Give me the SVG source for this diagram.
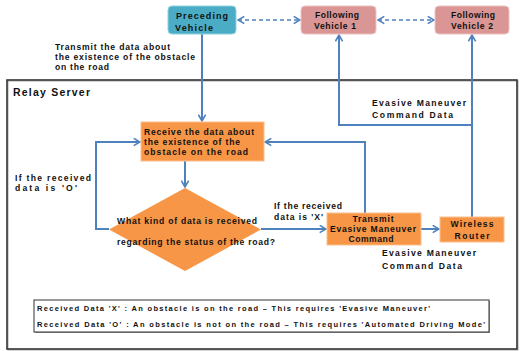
<svg xmlns="http://www.w3.org/2000/svg" width="526" height="351" viewBox="0 0 526 351">
  <style>
    text { font-family: "Liberation Sans", Arial, sans-serif; font-weight: bold; fill: #111; }
    .lbl { font-size: 8.6px; }
    .ttl { font-size: 10.5px; }
    .veh { font-size: 9px; }
    .leg { font-size: 7.5px; }
    .mid { text-anchor: middle; }
    .flow { fill: none; stroke: #4F81BD; stroke-width: 2; }
    .dash { fill: none; stroke: #4F81BD; stroke-width: 1.6; stroke-dasharray: 4 3; }
    .step { fill: #F79646; stroke: #FBC08E; stroke-width: 1; }
  </style>
  <defs>
    <marker id="arr" viewBox="0 0 10 10" refX="9" refY="5" markerWidth="9" markerHeight="9" markerUnits="userSpaceOnUse" orient="auto-start-reverse">
      <path d="M2,1 L9,5 L2,9" fill="none" stroke="#4F81BD" stroke-width="1.8"/>
    </marker>
  </defs>

  <rect width="526" height="351" fill="#fff"/>

  <!-- relay server frame -->
  <g id="relay-server">
    <rect x="8" y="81" width="510" height="269" fill="none" stroke="#aaa" stroke-width="1"/>
    <rect x="7" y="80" width="510" height="269" fill="none" stroke="#333" stroke-width="1.6"/>
    <text class="ttl" x="13" y="96" textLength="77" lengthAdjust="spacing">Relay Server</text>
  </g>

  <!-- connectors -->
  <g id="connectors">
    <path class="flow" d="M202,34 V121" marker-end="url(#arr)"/>
    <path class="flow" d="M185,161 V187" marker-end="url(#arr)"/>
    <path class="flow" d="M109,229 H96 V142 H140" marker-end="url(#arr)"/>
    <path class="flow" d="M261,229 H326" marker-end="url(#arr)"/>
    <path class="flow" d="M421,229 H439" marker-end="url(#arr)"/>
    <path class="flow" d="M365,213 V142 H265" marker-end="url(#arr)"/>
    <path class="flow" d="M472,217 V35" marker-end="url(#arr)"/>
    <path class="flow" d="M472,125 H339 V35" marker-end="url(#arr)"/>
    <path class="dash" d="M238,20 H300" marker-start="url(#arr)" marker-end="url(#arr)"/>
    <path class="dash" d="M378,20 H434" marker-start="url(#arr)" marker-end="url(#arr)"/>
  </g>

  <!-- vehicles -->
  <g id="preceding-vehicle">
    <rect x="168" y="6" width="68" height="28" rx="4" fill="#4BACC6" stroke="#8FD0E0" stroke-width="1"/>
    <text class="veh mid" x="202" y="19" textLength="52" lengthAdjust="spacing">Preceding</text>
    <text class="veh mid" x="194" y="31" textLength="38" lengthAdjust="spacing">Vehicle</text>
  </g>
  <g id="following-vehicle-1">
    <rect x="301" y="6" width="75" height="28" rx="4" fill="#DA9694" stroke="#EDC3C2" stroke-width="1"/>
    <text class="lbl mid" x="337" y="18" textLength="44" lengthAdjust="spacing">Following</text>
    <text class="lbl mid" x="335" y="29" textLength="42" lengthAdjust="spacing">Vehicle 1</text>
  </g>
  <g id="following-vehicle-2">
    <rect x="435" y="6" width="74" height="28" rx="4" fill="#DA9694" stroke="#EDC3C2" stroke-width="1"/>
    <text class="lbl mid" x="473" y="18" textLength="44" lengthAdjust="spacing">Following</text>
    <text class="lbl mid" x="472" y="29" textLength="42" lengthAdjust="spacing">Vehicle 2</text>
  </g>

  <!-- upload label -->
  <g id="upload-label">
    <text class="lbl" x="55" y="50" textLength="115" lengthAdjust="spacing">Transmit the data about</text>
    <text class="lbl" x="55" y="60" textLength="140" lengthAdjust="spacing">the existence of the obstacle</text>
    <text class="lbl" x="55" y="70" textLength="54" lengthAdjust="spacing">on the road</text>
  </g>

  <!-- receive step -->
  <g id="receive">
    <rect class="step" x="141" y="122" width="123" height="39"/>
    <text class="lbl" x="144" y="135" textLength="110" lengthAdjust="spacing">Receive the data about</text>
    <text class="lbl" x="144" y="145" textLength="96" lengthAdjust="spacing">the existence of the</text>
    <text class="lbl" x="144" y="155" textLength="104" lengthAdjust="spacing">obstacle on the road</text>
  </g>

  <!-- decision -->
  <g id="decision">
    <polygon points="185,188 261,229.5 185,271 109,229.5" fill="#F79646"/>
    <text class="lbl" x="117" y="224" textLength="140" lengthAdjust="spacing">What kind of data is received</text>
    <text class="lbl" x="117" y="245" textLength="158" lengthAdjust="spacing">regarding the status of the road?</text>
  </g>

  <g id="branch-o">
    <text class="lbl" x="15" y="181" textLength="76" lengthAdjust="spacing">If the received</text>
    <text class="lbl" x="15" y="191" textLength="62" lengthAdjust="spacing">data is 'O'</text>
  </g>
  <g id="branch-x">
    <text class="lbl" x="274" y="209" textLength="68" lengthAdjust="spacing">If the received</text>
    <text class="lbl" x="274" y="220" textLength="49" lengthAdjust="spacing">data is 'X'</text>
  </g>

  <!-- transmit step -->
  <g id="transmit">
    <rect class="step" x="327" y="213" width="94" height="32"/>
    <text class="lbl mid" x="373" y="222" textLength="41" lengthAdjust="spacing">Transmit</text>
    <text class="lbl mid" x="373" y="232" textLength="86" lengthAdjust="spacing">Evasive Maneuver</text>
    <text class="lbl mid" x="371" y="242" textLength="45" lengthAdjust="spacing">Command</text>
  </g>

  <!-- wireless router -->
  <g id="router">
    <rect class="step" x="440" y="217" width="64" height="25"/>
    <text class="lbl mid" x="472" y="227" textLength="43" lengthAdjust="spacing">Wireless</text>
    <text class="lbl mid" x="472" y="239" textLength="35" lengthAdjust="spacing">Router</text>
  </g>

  <g id="command-label-upper">
    <text class="lbl" x="372" y="106" textLength="94" lengthAdjust="spacing">Evasive Maneuver</text>
    <text class="lbl" x="372" y="118" textLength="81" lengthAdjust="spacing">Command Data</text>
  </g>
  <g id="command-label-lower">
    <text class="lbl" x="382" y="256" textLength="94" lengthAdjust="spacing">Evasive Maneuver</text>
    <text class="lbl" x="382" y="269" textLength="80" lengthAdjust="spacing">Command Data</text>
  </g>

  <!-- legend -->
  <g id="legend">
    <rect x="35" y="301" width="455" height="32" fill="#999"/>
    <rect x="34" y="300" width="455" height="32" fill="#fff" stroke="#333" stroke-width="1"/>
    <text class="leg" x="37" y="311" textLength="393" lengthAdjust="spacing">Received Data 'X' : An obstacle is on the road – This requires 'Evasive Maneuver'</text>
    <text class="leg" x="37" y="327" textLength="448" lengthAdjust="spacing">Received Data 'O' : An obstacle is not on the road – This requires 'Automated Driving Mode'</text>
  </g>
</svg>
